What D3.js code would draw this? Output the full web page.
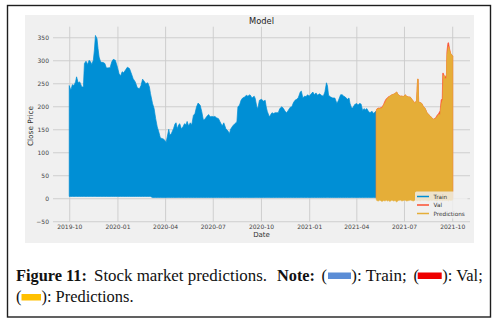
<!DOCTYPE html>
<html><head><meta charset="utf-8">
<script src="https://cdn.jsdelivr.net/npm/d3@7"></script>
<style>body{margin:0;background:#fff}svg{display:block}</style>
</head><body>
<svg id="c" width="501" height="323"></svg>
<script>
// ---------------- data ----------------
const trainDates = ["2019-10-01","2019-10-04","2019-10-07","2019-10-10","2019-10-13","2019-10-15","2019-10-18","2019-10-21","2019-10-25","2019-10-28","2019-10-30","2019-11-02","2019-11-05","2019-11-08","2019-11-11","2019-11-13","2019-11-16","2019-11-18","2019-11-20","2019-11-23","2019-11-25","2019-11-27","2019-11-30","2019-12-05","2019-12-08","2019-12-11","2019-12-18","2019-12-21","2019-12-24","2019-12-28","2020-01-01","2020-01-04","2020-01-07","2020-01-10","2020-01-13","2020-01-17","2020-01-20","2020-01-24","2020-01-27","2020-01-31","2020-02-04","2020-02-08","2020-02-12","2020-02-15","2020-02-18","2020-02-22","2020-02-24","2020-02-28","2020-03-02","2020-03-04","2020-03-08","2020-03-11","2020-03-14","2020-03-17","2020-03-20","2020-03-23","2020-03-26","2020-03-30","2020-04-03","2020-04-05","2020-04-08","2020-04-10","2020-04-13","2020-04-17","2020-04-20","2020-04-22","2020-04-24","2020-04-27","2020-04-29","2020-05-02","2020-05-05","2020-05-08","2020-05-11","2020-05-13","2020-05-16","2020-05-19","2020-05-22","2020-05-25","2020-05-28","2020-05-31","2020-06-03","2020-06-07","2020-06-10","2020-06-13","2020-06-16","2020-06-19","2020-06-23","2020-06-26","2020-06-29","2020-07-02","2020-07-05","2020-07-08","2020-07-12","2020-07-15","2020-07-19","2020-07-22","2020-07-26","2020-07-30","2020-08-02","2020-08-04","2020-08-08","2020-08-12","2020-08-16","2020-08-18","2020-08-21","2020-08-24","2020-08-27","2020-08-31","2020-09-03","2020-09-06","2020-09-10","2020-09-14","2020-09-18","2020-09-20","2020-09-23","2020-09-25","2020-09-28","2020-10-02","2020-10-06","2020-10-09","2020-10-11","2020-10-13","2020-10-16","2020-10-17","2020-10-22","2020-10-25","2020-10-28","2020-10-31","2020-11-03","2020-11-06","2020-11-10","2020-11-13","2020-11-16","2020-11-19","2020-11-22","2020-11-26","2020-11-29","2020-12-02","2020-12-05","2020-12-08","2020-12-11","2020-12-15","2020-12-17","2020-12-20","2020-12-23","2020-12-26","2020-12-29","2021-01-01","2021-01-05","2021-01-08","2021-01-11","2021-01-14","2021-01-17","2021-01-21","2021-01-24","2021-01-28","2021-01-31","2021-02-03","2021-02-05","2021-02-07","2021-02-11","2021-02-15","2021-02-19","2021-02-23","2021-02-26","2021-03-02","2021-03-05","2021-03-08","2021-03-11","2021-03-15","2021-03-18","2021-03-20","2021-03-23","2021-03-25","2021-03-29","2021-04-02","2021-04-04","2021-04-07","2021-04-10","2021-04-13","2021-04-16","2021-04-18","2021-04-21","2021-04-24","2021-04-27","2021-05-01","2021-05-04","2021-05-08","2021-05-09"];
const trainClose = [245,235,247,245,253,264,251,253,242,242,293,298,291,300,296,291,300,322,354,347,325,307,296,295,293,283,284,296,302,300,285,271,266,275,273,280,285,282,273,260,253,240,238,245,259,253,249,251,242,228,206,195,173,155,144,131,130,128,122,133,150,137,141,151,162,164,151,160,162,151,155,162,160,167,157,164,160,180,184,199,207,202,188,170,172,177,182,177,178,177,178,175,173,166,157,164,151,146,141,150,157,162,166,199,202,213,218,220,224,222,225,218,222,217,199,195,213,215,211,213,199,189,180,177,186,184,186,186,186,195,199,195,189,186,191,198,199,208,213,215,218,231,233,218,222,221,225,222,227,231,225,229,224,227,224,222,231,251,244,224,220,218,218,206,213,225,225,222,220,215,218,206,196,196,204,206,202,206,205,191,195,192,195,189,186,189,184,189,189];
const trainFloorBreak = "2020-03-05";
const trainFloorLevels = [4, 1.5];

const validDates = ["2021-05-09","2021-05-10","2021-05-13","2021-05-16","2021-05-20","2021-05-23","2021-05-26","2021-05-28","2021-05-30","2021-06-02","2021-06-04","2021-06-08","2021-06-11","2021-06-14","2021-06-17","2021-06-20","2021-06-24","2021-06-27","2021-06-30","2021-07-03","2021-07-06","2021-07-10","2021-07-13","2021-07-16","2021-07-19","2021-07-22","2021-07-25","2021-07-27","2021-07-28","2021-07-29","2021-08-01","2021-08-04","2021-08-07","2021-08-10","2021-08-14","2021-08-17","2021-08-20","2021-08-23","2021-08-26","2021-08-30","2021-09-02","2021-09-05","2021-09-08","2021-09-10","2021-09-12","2021-09-13","2021-09-14","2021-09-16","2021-09-17","2021-09-20","2021-09-21","2021-09-23","2021-09-24","2021-09-26","2021-09-28","2021-10-02"];
const valClose  = [189,194,196,196,198,204,212,216,218,221,222,225,226,228,231,225,222,222,221,225,222,220,220,215,211,206,213,259,259,209,208,206,199,196,186,182,179,175,172,174,180,184,190,214,216,272,272,265,262,268,320,338,338,325,315,309];
const predClose = [189,193,195,195,196,202,208,213,217,220,222,225,226,228,231,225,222,222,221,225,222,220,220,215,211,206,213,259,259,209,208,206,199,196,186,182,179,175,172,173,177,182,182,202,213,213,267,267,260,261,312,325,330,322,315,309];
const predLow   = [-2,-5,-6,-4,-7,-5,-6,-4,-6,-5,-7,-4,-6,-5,-8,-5,-4,-6,-5,-4,-6,-5,-4,-5,-6,-4,-5,-6,-4,-5,-6,-4,-5,-4,-5,-6,-4,-5,-4,-5,-6,-4,-5,-4,-5,-6,-4,-5,-4,-5,-4,-5,-6,-4,-5,-4];

const xTickLabels = ["2019-10","2020-01","2020-04","2020-07","2020-10","2021-01","2021-04","2021-07","2021-10"];
const yTickValues = [-50,0,50,100,150,200,250,300,350];
const seriesNames = ["Train","Val","Predictions"];
const chartTitle = "Model", xTitle = "Date", yTitle = "Close Price";

// ---------------- styles ----------------
const C = {train:"#008fd5", val:"#fc4f30", pred:"#e5ae38", bg:"#f0f0f0", grid:"#cbcbcb"};
const parse = d3.utcParse("%Y-%m-%d");
const parseM = d3.utcParse("%Y-%m");

const svg = d3.select("#c");
svg.append("rect").attr("width",501).attr("height",323).attr("fill","#fff");
svg.append("rect").attr("x",7.5).attr("y",5.5).attr("width",483).attr("height",311.5)
   .attr("fill","none").attr("stroke","#1e1e1e").attr("stroke-width",1.4);
svg.append("rect").attr("x",25).attr("y",15).attr("width",449).attr("height",228).attr("fill",C.bg);

const L = 53, R = 470, T = 26.7, B = 221.7;
const x = d3.scaleUtc().domain([parse("2019-08-31"), parse("2021-11-04")]).range([L, R]);
const y = d3.scaleLinear().domain([-51, 373]).range([B, T]);

// grid + axes
const gy = svg.append("g").attr("transform",`translate(${L},0)`)
  .call(d3.axisLeft(y).tickValues(yTickValues).tickFormat(d3.format("d")).tickSize(-(R-L)).tickPadding(4));
const gx = svg.append("g").attr("transform",`translate(0,${B})`)
  .call(d3.axisBottom(x).tickValues(xTickLabels.map(parseM)).tickFormat(d3.utcFormat("%Y-%m")).tickSize(-(B-T)).tickPadding(2.6));
[gx,gy].forEach(g=>{
  g.select(".domain").remove();
  g.selectAll("line").attr("stroke",C.grid).attr("stroke-width",0.9);
  g.selectAll("text").attr("fill","#444").style("font-family","DejaVu Sans").style("font-size","6px");
});

// data
const train = trainDates.map((d,i)=>({date:parse(d), v:trainClose[i]}));
const brk = parse(trainFloorBreak);
const valid = validDates.map((d,i)=>({date:parse(d), val:valClose[i], pred:predClose[i], low:predLow[i]}));

const clip = svg.append("clipPath").attr("id","pc").append("rect").attr("x",L).attr("y",T).attr("width",R-L).attr("height",B-T);
const plot = svg.append("g").attr("clip-path","url(#pc)");

plot.append("path").datum(train)
  .attr("d", d3.area().x(d=>x(d.date)).y0(d=>y(d.date < brk ? trainFloorLevels[0] : trainFloorLevels[1])).y1(d=>y(d.v)))
  .attr("fill",C.train).attr("stroke",C.train).attr("stroke-width",0.7).attr("stroke-linejoin","round");
plot.append("path").datum(valid)
  .attr("d", d3.area().x(d=>x(d.date)).y0(y(0)).y1(d=>y(d.val)))
  .attr("fill",C.val).attr("stroke",C.val).attr("stroke-width",0.7).attr("stroke-linejoin","round");
plot.append("path").datum(valid)
  .attr("d", d3.area().x(d=>x(d.date)).y0(d=>y(d.low)).y1(d=>y(d.pred)))
  .attr("fill",C.pred).attr("stroke",C.pred).attr("stroke-width",0.6).attr("stroke-linejoin","round");

// titles
svg.append("text").attr("x",(L+R)/2).attr("y",24).attr("text-anchor","middle")
  .style("font-family","DejaVu Sans").style("font-size","8.3px").attr("fill","#222").text(chartTitle);
svg.append("text").attr("x",(L+R)/2).attr("y",237.2).attr("text-anchor","middle")
  .style("font-family","DejaVu Sans").style("font-size","7px").attr("fill","#333").text(xTitle);
svg.append("text").attr("transform",`translate(33,126) rotate(-90)`).attr("text-anchor","middle")
  .style("font-family","DejaVu Sans").style("font-size","7.3px").attr("fill","#333").text(yTitle);

// legend
const lg = svg.append("g");
lg.append("rect").attr("x",415).attr("y",191.5).attr("width",52.5).attr("height",27).attr("rx",1.5)
  .attr("fill",C.bg).attr("fill-opacity",0.8);
const lcol = [C.train, C.val, C.pred];
seriesNames.forEach((n,i)=>{
  const yy = 196.5 + i*8.5;
  lg.append("line").attr("x1",417).attr("x2",429).attr("y1",yy).attr("y2",yy).attr("stroke",lcol[i]).attr("stroke-width",1.5);
  lg.append("text").attr("x",433.5).attr("y",yy+2).style("font-family","DejaVu Sans").style("font-size","5.7px").attr("fill","#333").text(n);
});

// caption
const cap = svg.append("g").style("font-family","'Liberation Serif', serif").style("font-size","16.5px").attr("fill","#111");
function seg(t, x0, yb, len, bold){
  const e = cap.append("text").attr("x",x0).attr("y",yb).text(t);
  if (bold) e.style("font-weight","bold");
  if (len) e.attr("textLength",len).attr("lengthAdjust","spacingAndGlyphs");
}
seg("Figure 11:",16,280.5,71,true);
seg("Stock market predictions.",94,280.5,173,false);
seg("Note:",277,280.5,38,true);
seg("(",321.5,280.5,null,false);
cap.append("rect").attr("x",328).attr("y",272.5).attr("width",23).attr("height",6.5).attr("fill","#5b8dd6");
seg("): Train;",351.3,280.5,55.5,false);
seg("(",413.5,280.5,null,false);
cap.append("rect").attr("x",417.7).attr("y",272.5).attr("width",24).attr("height",6.5).attr("fill","#ee0000");
seg("): Val;",442.3,280.5,40.5,false);
seg("(",16,302,null,false);
cap.append("rect").attr("x",21.5).attr("y",294).attr("width",19.5).attr("height",6.5).attr("fill","#ffc000");
seg("): Predictions.",41.5,302,92,false);
</script>
</body></html>
